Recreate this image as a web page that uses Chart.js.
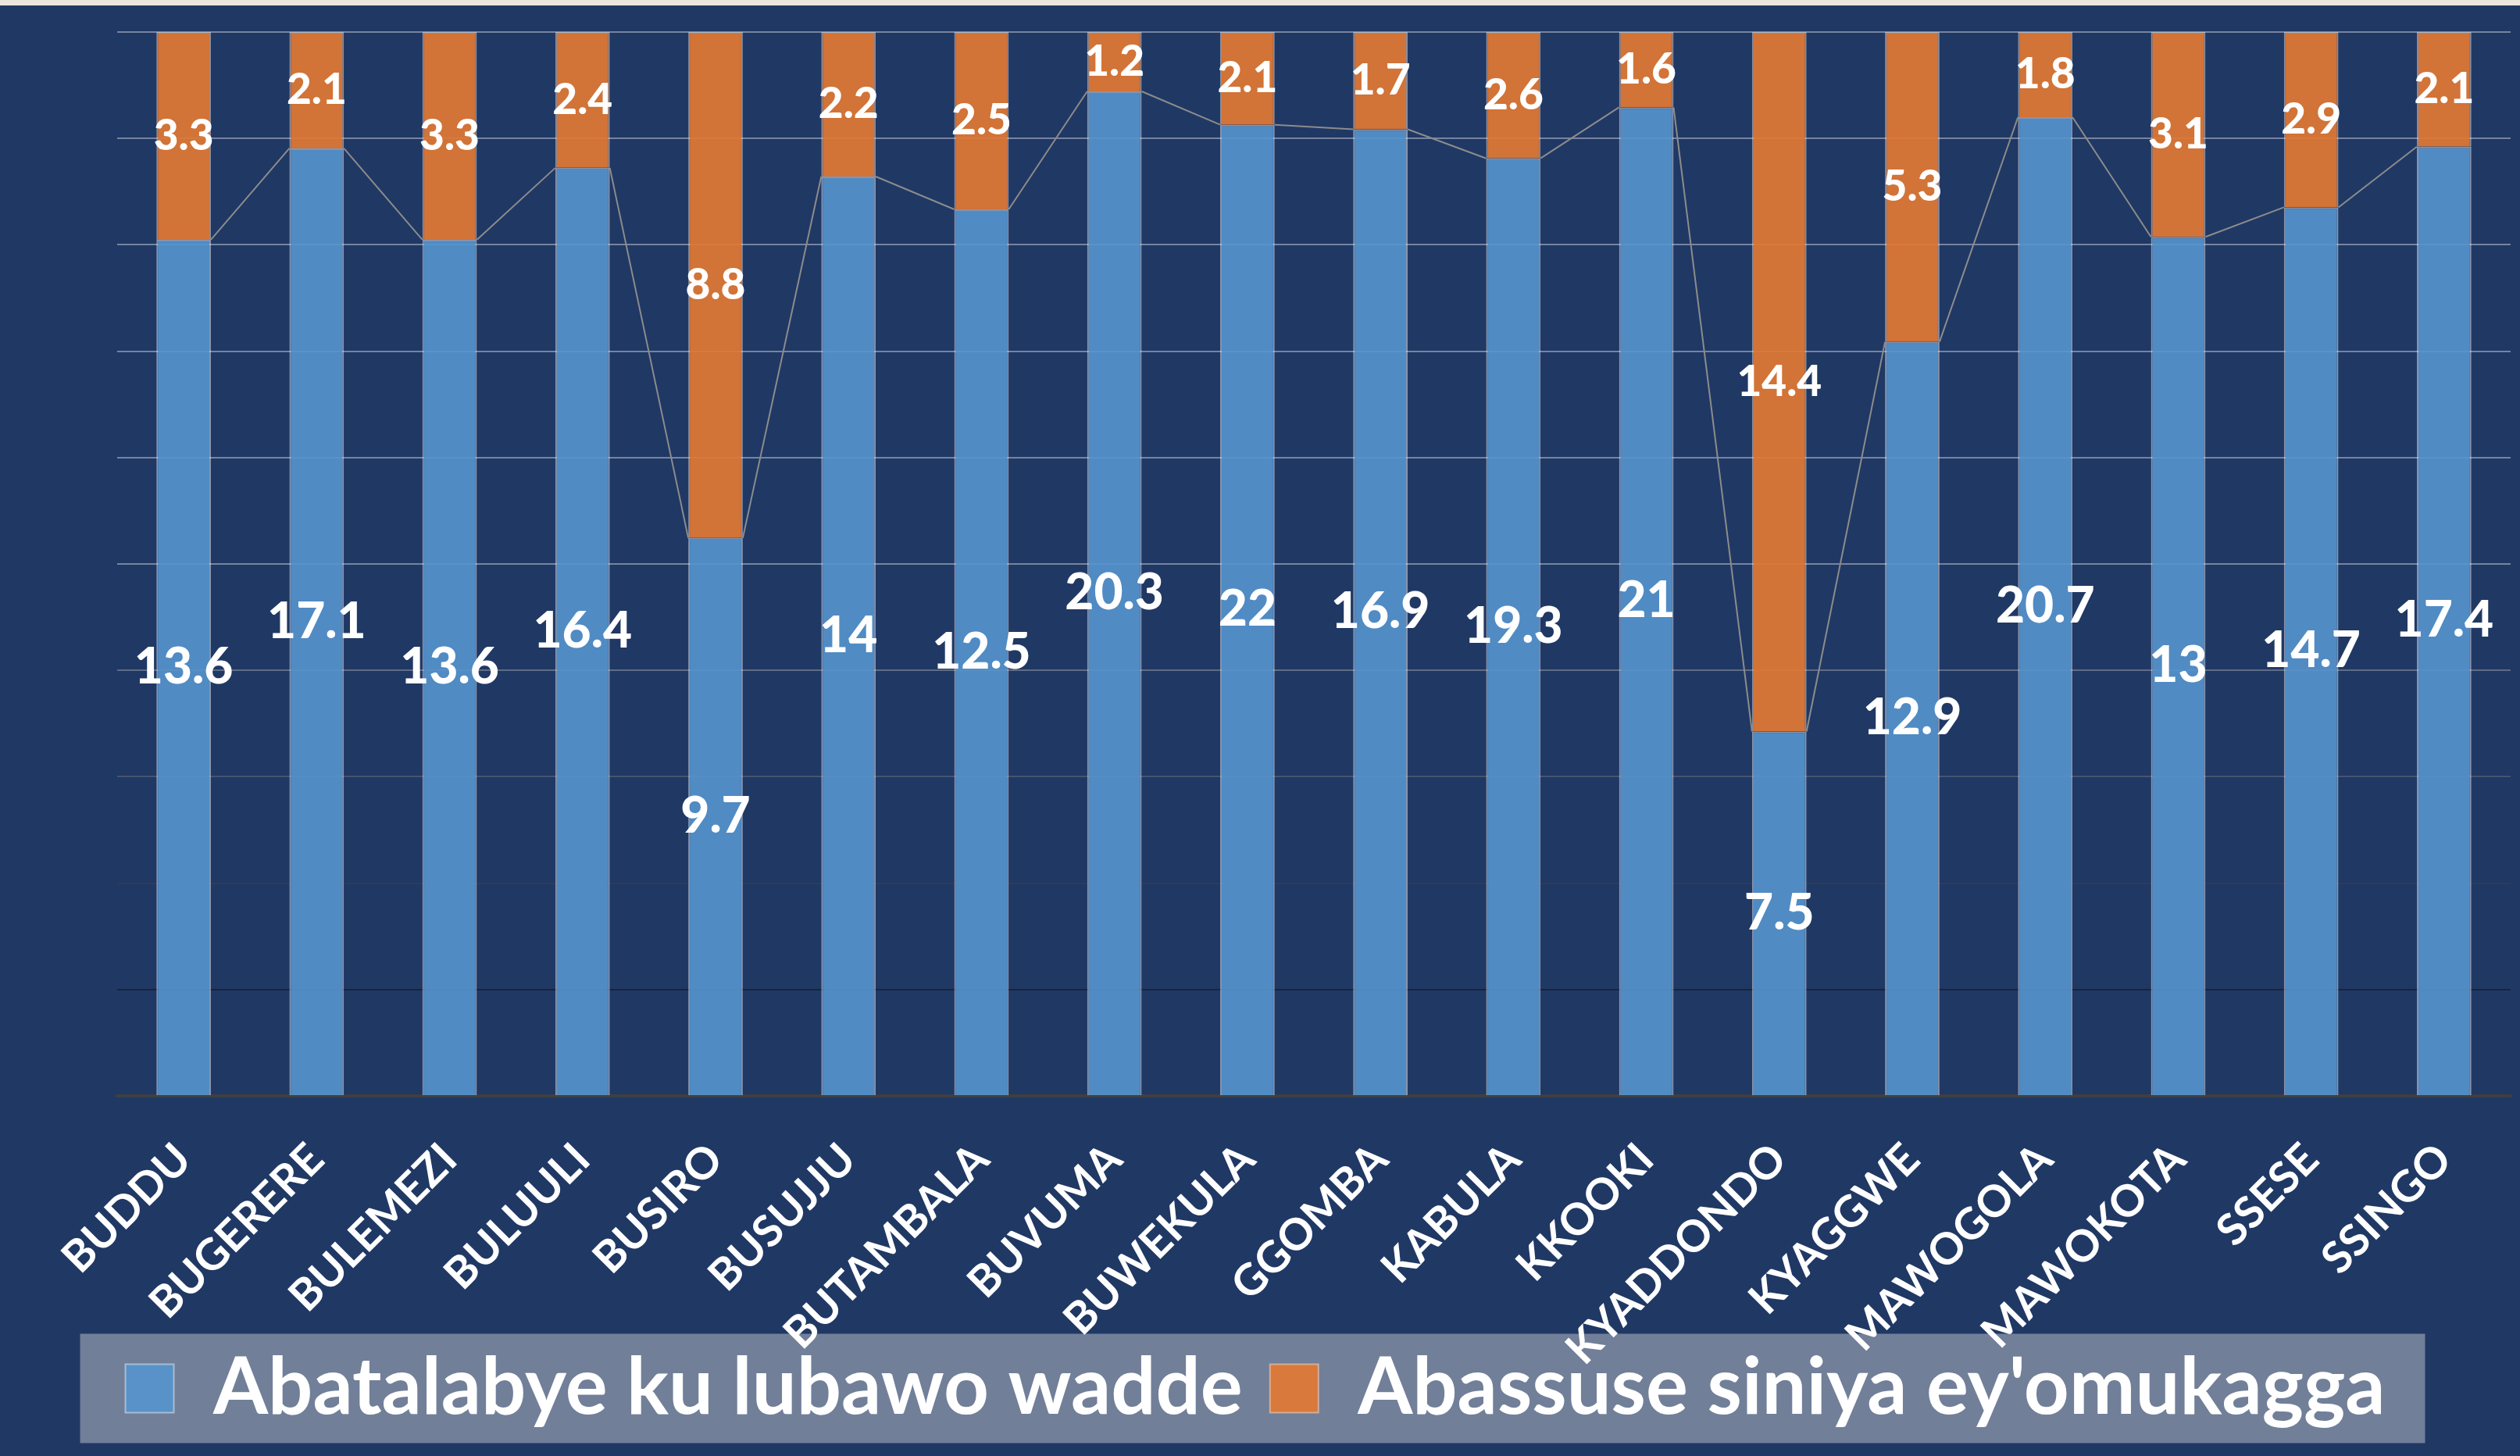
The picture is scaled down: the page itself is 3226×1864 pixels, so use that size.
<!DOCTYPE html>
<html>
<head>
<meta charset="utf-8">
<script src="https://cdn.jsdelivr.net/npm/chart.js@4.4.1/dist/chart.umd.min.js"></script>
<style>
    body { margin: 0; background: #203864; }
    #wrap { width: 3226px; height: 1864px; }
</style>
</head>
<body>
<div id="wrap"><canvas id="bar-chart" width="3226" height="1864"></canvas></div>
<script>
const categories = ["BUDDU", "BUGERERE", "BULEMEZI", "BULUULI", "BUSIRO", "BUSUJJU", "BUTAMBALA", "BUVUMA", "BUWEKULA",
    "GGOMBA", "KABULA", "KKOOKI", "KYADDONDO", "KYAGGWE", "MAWOGOLA", "MAWOKOTA", "SSESE", "SSINGO"];
const abatalabye = [13.6, 17.1, 13.6, 16.4, 9.7, 14, 12.5, 20.3, 22, 16.9, 19.3, 21, 7.5, 12.9, 20.7, 13, 14.7, 17.4];
const abassuse = [3.3, 2.1, 3.3, 2.4, 8.8, 2.2, 2.5, 1.2, 2.1, 1.7, 2.6, 1.6, 14.4, 5.3, 1.8, 3.1, 2.9, 2.1];
const seriesNames = ["Abatalabye ku lubawo wadde", "Abassuse siniya ey'omukagga"];
const yTicks = [0, 10, 20, 30, 40, 50, 60, 70, 80, 90, 100];

// 100% stacked: share of each bar
function share(a, b) {
    return a.map(function (v, i) { return v / (v + b[i]) * 100; });
}

const rawValues = [abatalabye, abassuse];
const fontName = "Lato, 'Open Sans', sans-serif";

function gridColor(ctx) {
    var v = ctx.tick ? ctx.tick.value : 0;
    var t = Math.min(1, Math.max(0, (v - 10) / 40));
    var r = Math.round(24 + (118 - 24) * t);
    var g = Math.round(36 + (132 - 36) * t);
    var b = Math.round(62 + (160 - 62) * t);
    return "rgb(" + r + "," + g + "," + b + ")";
}

const backdrop = {
    id: "backdrop",
    beforeDraw: function (chart) {
        var ctx = chart.ctx;
        ctx.save();
        ctx.fillStyle = "#203864";
        ctx.fillRect(0, 0, chart.width, chart.height);
        ctx.fillStyle = "#ece6dc";
        ctx.fillRect(0, 0, chart.width, 7);
        var boxes = chart.legend.legendHitBoxes;
        if (boxes && boxes.length) {
            var first = boxes[0], last = boxes[boxes.length - 1];
            var cy = first.top + first.height / 2;
            ctx.fillStyle = "#717f99";
            ctx.fillRect(first.left - 58, cy - 70, last.left + last.width + 51 - (first.left - 58), 140);
        }
        ctx.restore();
    }
};

// thin grey lines joining tops of the blue segments
const seriesLines = {
    id: "seriesLines",
    afterDatasetsDraw: function (chart) {
        var bars = chart.getDatasetMeta(0).data;
        var ctx = chart.ctx;
        ctx.save();
        ctx.strokeStyle = "#8c8c8c";
        ctx.lineWidth = 2;
        ctx.beginPath();
        for (var i = 0; i < bars.length - 1; i++) {
            var a = bars[i], b = bars[i + 1];
            ctx.moveTo(a.x + a.width / 2, a.y);
            ctx.lineTo(b.x - b.width / 2, b.y);
        }
        ctx.stroke();
        ctx.restore();
    }
};

const valueLabels = {
    id: "valueLabels",
    afterDatasetsDraw: function (chart) {
        var ctx = chart.ctx;
        ctx.save();
        ctx.fillStyle = "#ffffff";
        ctx.textAlign = "center";
        ctx.textBaseline = "middle";
        chart.data.datasets.forEach(function (ds, di) {
            ctx.font = "900 " + (di === 0 ? 64 : 55) + "px " + fontName;
            chart.getDatasetMeta(di).data.forEach(function (el, i) {
                ctx.fillText(String(rawValues[di][i]), el.x, (el.y + el.base) / 2);
            });
        });
        ctx.restore();
    }
};

const ChartData = {
    labels: categories,
    datasets: [{
        label: seriesNames[0],
        data: share(abatalabye, abassuse),
        backgroundColor: "rgba(85,149,206,0.9)",
        borderColor: "rgba(235,240,248,0.5)",
        borderWidth: 2
    }, {
        label: seriesNames[1],
        data: share(abassuse, abatalabye),
        backgroundColor: "rgba(226,120,51,0.92)",
        borderColor: "rgba(245,225,210,0.5)",
        borderWidth: 2
    }]
};

var Charts = new Chart(document.getElementById("bar-chart"), {
    type: "bar",
    data: ChartData,
    plugins: [backdrop, seriesLines, valueLabels],
    options: {
        responsive: false,
        devicePixelRatio: 1,
        animation: false,
        layout: { padding: { top: 41, left: 0, right: 12, bottom: 26 } },
        datasets: { bar: { categoryPercentage: 1, barPercentage: 0.41 } },
        scales: {
            x: {
                stacked: true,
                grid: { display: false, drawTicks: false },
                border: { display: true, color: "#404040", width: 4 },
                ticks: {
                    color: "#ffffff",
                    font: { family: fontName, size: 56, weight: "bold" },
                    minRotation: 45,
                    maxRotation: 45,
                    autoSkip: false,
                    padding: 48
                },
                afterFit: function (scale) {
                    scale.height = 289;
                    // the long names run down over the legend band, as in the original
                    scale._computeLabelArea = function () { return undefined; };
                }
            },
            y: {
                stacked: true,
                min: 0,
                max: 100,
                afterBuildTicks: function (scale) {
                    scale.ticks = yTicks.map(function (v) { return { value: v }; });
                },
                afterFit: function (scale) { scale.width = 150; },
                ticks: { display: false },
                grid: { color: gridColor, lineWidth: 2, drawTicks: false },
                border: { display: false }
            }
        },
        plugins: {
            tooltip: { enabled: false },
            legend: {
                display: true,
                position: "bottom",
                labels: {
                    color: "#ffffff",
                    font: { family: fontName, size: 101, weight: "bold" },
                    boxWidth: 62,
                    boxHeight: 62,
                    padding: 35
                }
            }
        }
    }
});
</script>
</body>
</html>
